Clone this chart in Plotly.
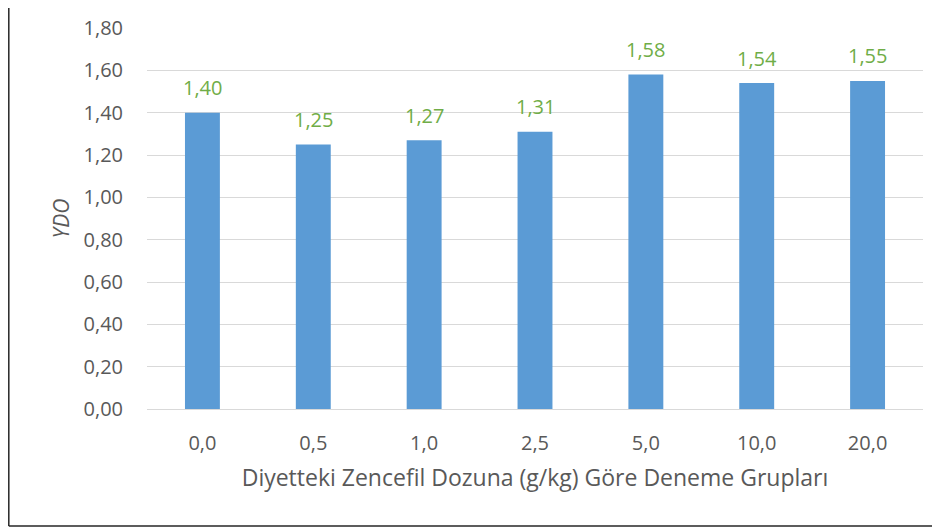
import plotly.graph_objects as go

categories = ["0,0", "0,5", "1,0", "2,5", "5,0", "10,0", "20,0"]
ydo_values = [1.40, 1.25, 1.27, 1.31, 1.58, 1.54, 1.55]
y_ticks = [0, 0.2, 0.4, 0.6, 0.8, 1.0, 1.2, 1.4, 1.6, 1.8]
y_tick_labels = ["0,00", "0,20", "0,40", "0,60", "0,80", "1,00", "1,20", "1,40", "1,60", "1,80"]
value_labels = [f"{v:.2f}".replace(".", ",") for v in ydo_values]

W, H = 940, 528
# page is offset by the 8px body margin
L, R, T, B = 139, 25, 20, 127
FONT = "Open Sans, Liberation Sans, sans-serif"
GREY = "#595959"

fig = go.Figure(go.Bar(
    x=categories, y=ydo_values,
    marker=dict(color="#5B9BD5", line=dict(width=0)),
))

for c, v, t in zip(categories, ydo_values, value_labels):
    fig.add_annotation(x=c, y=v, text=t, showarrow=False, yanchor="middle",
                       yshift=25, font=dict(color="#70AD47", size=20, family=FONT))

pw, ph = W - L - R, H - T - B
bx = (0.8 - L) / pw
by = (H - B - 518) / ph
fig.update_layout(
    width=W, height=H,
    margin=dict(l=L, r=R, t=T, b=B, autoexpand=False),
    paper_bgcolor="white", plot_bgcolor="white",
    bargap=0.685, showlegend=False,
    font=dict(family=FONT, color=GREY),
    xaxis=dict(
        showgrid=False, showline=True, linecolor="#D9D9D9", linewidth=1.3,
        ticks="", ticklabelstandoff=16, tickfont=dict(size=20, color=GREY),
        title=dict(text="Diyetteki Zencefil Dozuna (g/kg) Göre Deneme Grupları",
                   font=dict(size=23, color=GREY), standoff=14),
    ),
    yaxis=dict(
        range=[0, 1.8], tickvals=y_ticks, ticktext=y_tick_labels,
        showgrid=True, gridcolor="#D9D9D9", gridwidth=1.3, zeroline=False,
        ticks="", ticklabelstandoff=23, tickfont=dict(size=20, color=GREY),
        title=dict(text="<i>YDO</i>", font=dict(size=21, color=GREY), standoff=8),
    ),
    shapes=[
        dict(type="line", xref="paper", yref="paper",
             x0=bx, x1=bx, y0=by, y1=(H - B + 10) / ph,
             line=dict(color="#262626", width=1.5)),
        dict(type="line", xref="paper", yref="paper",
             x0=bx, x1=(W + 5 - L) / pw, y0=by, y1=by,
             line=dict(color="#262626", width=1.5)),
    ],
)

fig.write_html("out.html")
